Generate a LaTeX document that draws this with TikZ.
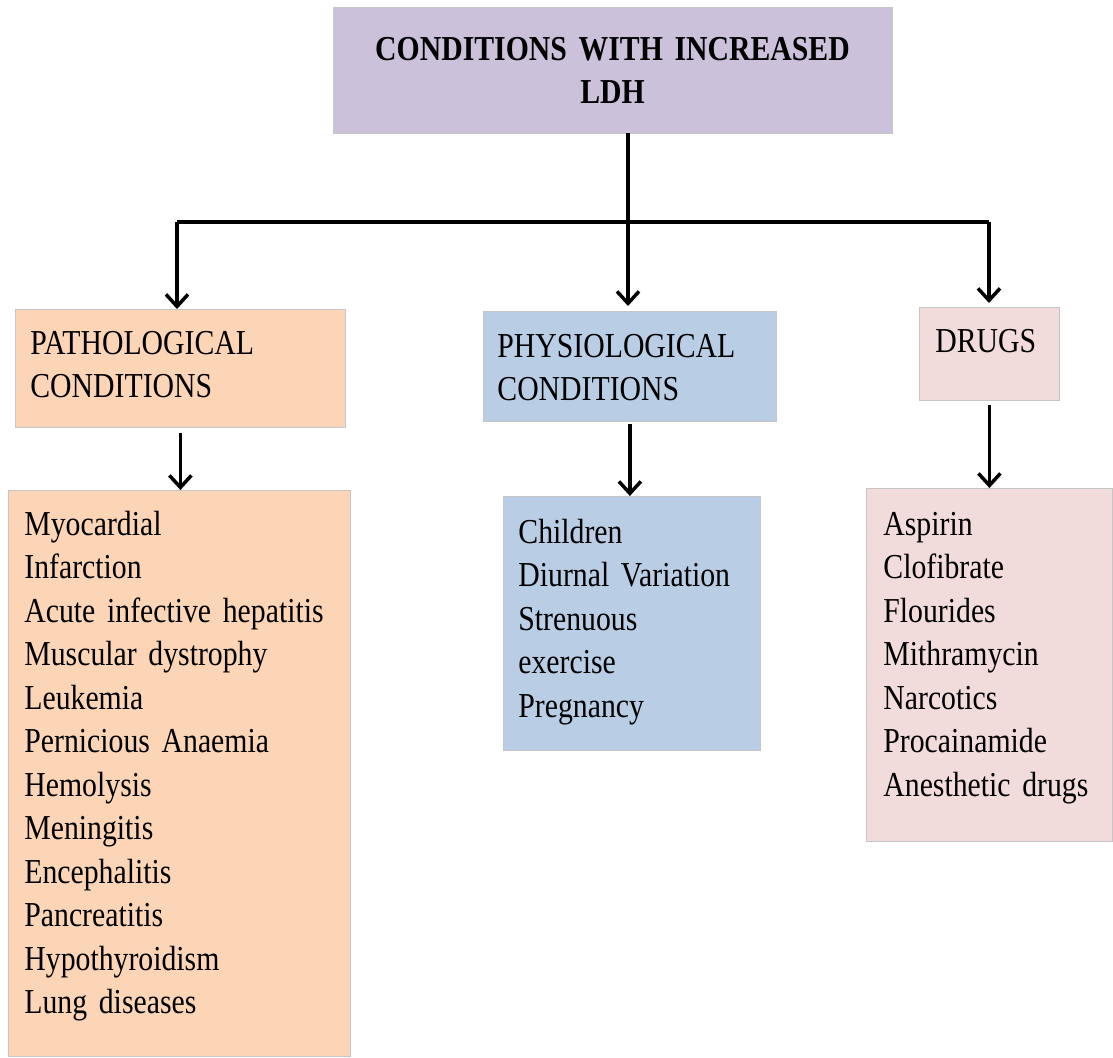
\documentclass[tikz,border=0pt]{standalone}
\usepackage{fontspec}
\setmainfont{Liberation Serif}[FakeStretch = 0.85]
\usepackage{tikz}
\usetikzlibrary{arrows.meta}
\definecolor{lavender}{HTML}{CCC1DA}
\definecolor{peach}{HTML}{FBD5B5}
\definecolor{skyblue}{HTML}{B9CDE5}
\definecolor{rosepink}{HTML}{F2DCDB}
\newcommand{\boxfont}{\fontsize{35}{43.5}\selectfont\spaceskip=6.5pt\relax}
\newcommand{\headfont}{\bfseries\fontsize{35}{43}\selectfont\spaceskip=7pt\relax}
\tikzset{box/.style = {shape = rectangle, draw = gray!45, line width = 0.8pt, anchor = north west, inner ysep = 0pt, align = left, font = \boxfont}}
\tikzset{trunk/.style = {line width = 3.5pt}}
\tikzset{edge/.style = {->, > = {Straight Barb[length = 12pt, width = 22pt]}, line width = 3.5pt}}

\begin{document}
\begin{tikzpicture}[x = 1pt, y = -1pt]
			\useasboundingbox (0, 0) rectangle (1113, 1057);

			\node[box, fill = lavender, anchor = center, align = center, text width = 529pt, inner xsep = 15pt, minimum height = 126pt, font = \headfont] (ldh) at (612.5, 70) {CONDITIONS WITH INCREASED\\ LDH};

			\node[box, fill = peach, text width = 300pt, inner xsep = 15pt, text height = 45pt, text depth = 73pt] (patho) at (15, 309) {PATHOLOGICAL\\ CONDITIONS};
			\node[box, fill = skyblue, text width = 265pt, inner xsep = 14pt, text height = 46pt, text depth = 64pt] (physio) at (483, 311) {PHYSIOLOGICAL\\ CONDITIONS};
			\node[box, fill = rosepink, text width = 108pt, inner xsep = 16pt, text height = 45pt, text depth = 48pt] (drugs) at (919, 307) {DRUGS};

			\node[box, fill = peach, text width = 310pt, inner xsep = 16pt, text height = 45pt, text depth = 521pt] (pathlist) at (8, 490) {Myocardial\\ Infarction\\ Acute infective hepatitis\\ Muscular dystrophy\\ Leukemia\\ Pernicious Anaemia\\ Hemolysis\\ Meningitis\\ Encephalitis\\ Pancreatitis\\ Hypothyroidism\\ Lung diseases};
			\node[box, fill = skyblue, text width = 227pt, inner xsep = 15pt, text height = 47pt, text depth = 207pt] (physlist) at (503, 496) {Children\\ Diurnal Variation\\ Strenuous\\ exercise\\ Pregnancy};
			\node[box, fill = rosepink, text width = 212pt, inner xsep = 17pt, text height = 47pt, text depth = 306pt] (druglist) at (866, 488) {Aspirin\\ Clofibrate\\ Flourides\\ Mithramycin\\ Narcotics\\ Procainamide\\ Anesthetic drugs};

			\coordinate (split) at (628, 222);
			\coordinate (lsplit) at (177, 222);
			\coordinate (rsplit) at (989, 222);

			\draw[trunk] (split |- ldh.south) to (split);
			\draw[trunk] (lsplit) to (rsplit);
			\draw[edge] (lsplit) to (lsplit |- patho.north);
			\draw[edge, shorten > = 5pt] (split) to (split |- physio.north);
			\draw[edge, shorten > = 4pt] (rsplit) to (rsplit |- drugs.north);
			\draw[edge, shorten < = 5pt] (patho.south) to (patho.south |- pathlist.north);
			\draw[edge, shorten < = 2pt] (physio.south) to (physio.south |- physlist.north);
			\draw[edge, shorten < = 4pt] (drugs.south) to (drugs.south |- druglist.north);
		\end{tikzpicture}
\end{document}
